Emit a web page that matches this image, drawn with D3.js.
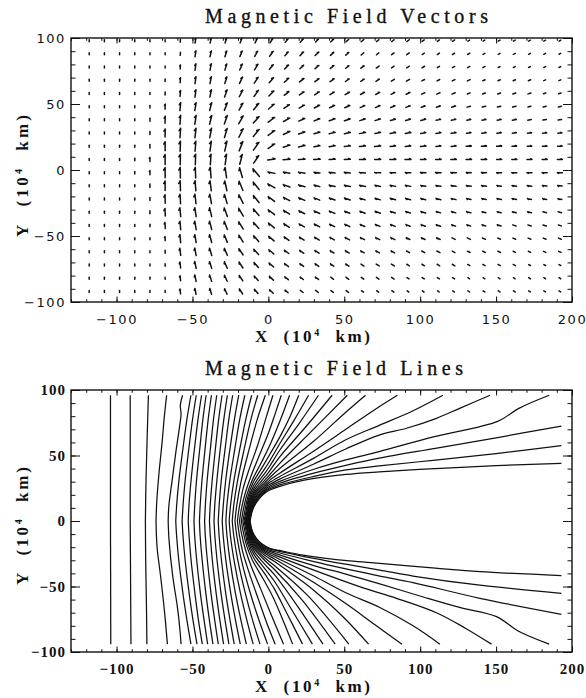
<!DOCTYPE html>
<html><head><meta charset="utf-8">
<script src="https://cdn.jsdelivr.net/npm/d3@7"></script>
<style>body{margin:0;background:#fff}text{white-space:pre}</style>
</head><body>
<svg id="c" width="586" height="698"></svg>
<script>
// ---------------- DATA ----------------
const xTicks = [-100, -50, 0, 50, 100, 150, 200];
const yTicks = [-100, -50, 0, 50, 100];
const title1 = "Magnetic Field Vectors";
const title2 = "Magnetic Field Lines";

// vector grid (10^4 km)
const gridX = [-118,-108,-98,-88,-78,-68,-58,-48,-38,-28,-18,-8,2,12,22,32,42,52,62,72,82,92,102,112,122,132,142,152,162,172,182,192];
const gridY = [98,88,78,68,58,48,38,28,18,8,-2,-12,-22,-32,-42,-52,-62,-72,-82,-92];

// vector direction (degrees, counter-clockwise from +X), one row per gridY
const vecAngle = [
[90,90,90,90,90,90,85,80,76,72,68,62,56,50,46,44,42,40,40,38,36,36,35,34,33,32,32,30,30,28,28,26],
[90,90,90,90,90,90,85,80,76,72,66,60,54,48,45,43,42,41,40,38,36,35,34,33,32,31,30,29,28,28,27,26],
[90,90,90,90,90,90,86,82,78,72,66,58,50,45,42,40,38,37,36,35,34,33,32,31,30,29,28,27,26,26,25,25],
[90,90,90,90,90,88,86,82,78,72,64,56,48,42,38,36,35,34,33,32,31,30,29,28,27,26,25,24,24,23,22,22],
[90,90,90,90,90,88,85,82,77,70,62,54,45,38,34,32,30,29,28,27,26,25,24,23,22,21,20,20,19,18,18,17],
[90,90,90,90,90,87,84,80,75,68,60,50,40,33,29,27,25,24,23,22,21,20,19,18,17,16,15,15,14,14,13,13],
[90,90,90,90,90,88,85,81,76,70,60,48,36,28,24,21,19,18,17,16,15,14,13,12,12,11,11,10,10,10,9,9],
[90,90,90,90,90,89,86,83,79,73,63,50,35,24,18,15,13,12,11,10,9,9,8,8,7,7,6,6,6,5,5,5],
[90,90,90,90,90,90,88,85,82,77,68,55,35,18,12,9,8,7,6,6,5,5,4,4,4,3,3,3,3,2,2,2],
[90,90,90,90,90,90,89,88,86,82,75,55,8,4,3,2,2,2,1,1,1,1,1,0,0,0,0,0,0,0,0,0],
[90,90,90,90,90,90,91,92,94,98,106,130,168,170,171,172,173,174,175,176,177,177,178,178,179,179,179,180,180,180,180,180],
[90,90,90,90,90,90,92,94,97,102,112,128,150,160,163,165,166,167,168,168,169,169,170,170,170,171,171,172,172,172,173,173],
[90,90,90,90,90,91,93,96,100,106,116,128,143,152,156,158,160,161,162,163,164,164,165,165,166,166,167,167,168,168,168,169],
[90,90,90,90,90,92,95,98,103,110,120,130,142,148,152,155,157,158,159,160,161,162,162,163,163,164,164,165,165,166,166,166],
[90,90,90,90,90,92,95,99,104,111,121,131,140,146,150,152,154,155,156,157,158,159,159,160,160,161,161,162,162,162,163,163],
[90,90,90,90,90,92,95,100,105,112,122,131,139,144,147,149,150,151,152,153,154,154,155,155,156,156,157,157,158,158,158,159],
[90,90,90,90,90,92,96,100,106,113,123,132,139,143,145,146,147,148,149,150,150,151,151,152,152,153,153,154,154,154,155,155],
[90,90,90,90,90,92,96,101,107,114,123,132,138,141,143,144,145,146,146,147,147,148,148,149,149,150,150,150,151,151,151,152],
[90,90,90,90,90,92,96,101,107,114,123,131,137,140,142,143,144,144,145,145,146,146,146,147,147,147,148,148,148,149,149,149],
[90,90,90,90,90,92,96,101,107,114,122,130,136,139,141,142,143,143,144,144,145,145,145,146,146,146,147,147,147,148,148,148]
];
// vector magnitude (arbitrary units), one row per gridY
const vecMag = [
[2,2,2,2,2,2,3,5,5,5,5,5,5,4.5,4.5,4,4,3.5,3.5,3,3,3,2.5,2.5,2.5,2,2,2,2,2,2,2],
[2,2,2,2,2,2,3,6,6,6,6,6,6,5,5,5,4.5,4,3.5,3,3,3,2.5,2.5,2.5,2.5,2,2,2,2,2,2],
[2,2,2,2,2,2,4,6.5,6.5,6.5,6.5,6.5,6,5.5,5,5,4.5,4,4,3.5,3,3,3,2.5,2.5,2.5,2.5,2,2,2,2,2],
[2,2,2,2,2,2.5,5,7,7,7,7,7,6.5,6,5.5,5,5,4.5,4,4,3.5,3.5,3,3,3,3,2.5,2.5,2.5,2.5,2,2],
[2,2,2,2,2,3,6,7.5,7.5,7.5,7.5,7.5,7,6,5.5,5.5,5,5,4.5,4.5,4,4,3.5,3.5,3.5,3,3,3,3,3,2.5,2.5],
[2,2,2,2,2.5,5,8,8,8,8,8,8,7.5,6.5,6,6,5.5,5.5,5,5,4.5,4.5,4,4,4,3.5,3.5,3.5,3.5,3,3,3],
[2,2,2,2,3,7,9,9,9,9,9,8.5,8,7,6.5,6,6,6,5.5,5.5,5,5,5,4.5,4.5,4,4,4,4,3.5,3.5,3.5],
[2,2,2,2,3,8,9.5,9.5,9.5,9.5,9.5,9,8,7,6.5,6,6,6,6,5.5,5.5,5.5,5,5,5,4.5,4.5,4.5,4,4,4,4],
[2,2,2,2,3.5,9,10,10,10,10,10,9.5,8,7,6.5,6,6,6,6,6,5.5,5.5,5.5,5,5,5,5,5,4.5,4.5,4.5,4.5],
[2,2,2,2.5,4,10,10.5,10.5,10.5,10.5,10,9,7.5,7,6.5,6.5,6,6,6,6,6,6,5.5,5.5,5.5,5.5,5.5,5,5,5,5,5],
[2,2,2,2.5,4,10,10.5,10.5,10.5,10.5,10,10,7,6.5,6.5,6,6,6,6,6,5.5,5.5,5.5,5.5,5.5,5,5,5,5,5,5,5],
[2,2,2,2,3.5,9.5,10,10,10,10,10,9.5,8,7,6.5,6,6,6,6,5.5,5.5,5.5,5,5,5,5,5,4.5,4.5,4.5,4.5,4.5],
[2,2,2,2,3,8.5,9.5,9.5,9.5,9.5,9.5,9,8,7,6.5,6,6,6,5.5,5.5,5.5,5,5,5,5,4.5,4.5,4.5,4.5,4,4,4],
[2,2,2,2,3,7.5,9,9,9,9,9,8.5,8,7,6.5,6,6,5.5,5.5,5.5,5,5,5,4.5,4.5,4.5,4,4,4,4,3.5,3.5],
[2,2,2,2,2.5,6,8.5,8.5,8.5,8.5,8.5,8,7.5,6.5,6,6,5.5,5.5,5,5,5,4.5,4.5,4.5,4,4,4,4,3.5,3.5,3.5,3],
[2,2,2,2,2,4,8,8,8,8,8,7.5,7,6,5.5,5.5,5,5,4.5,4.5,4.5,4,4,4,3.5,3.5,3.5,3,3,3,3,3],
[2,2,2,2,2,3,7,7.5,7.5,7.5,7.5,7,6.5,5.5,5,5,4.5,4.5,4,4,4,3.5,3.5,3.5,3,3,3,3,2.5,2.5,2.5,2.5],
[2,2,2,2,2,2.5,6,7,7,7,7,6.5,6,5,4.5,4.5,4,4,3.5,3.5,3.5,3,3,3,3,2.5,2.5,2.5,2.5,2,2,2],
[2,2,2,2,2,2,5,6.5,6.5,6.5,6.5,6,5.5,4.5,4,4,3.5,3.5,3,3,3,2.5,2.5,2.5,2.5,2,2,2,2,2,2,2],
[2,2,2,2,2,2,5,6,6,6,6,5.5,5,4,3.5,3.5,3,3,2.5,2.5,2.5,2,2,2,2,2,2,2,2,2,2,2]
];

// field lines, northern branches (from y=0 outward), [x, y] in 10^4 km
const linesNorth = [
[[-104,0],[-104,96]],
[[-91,0],[-91,96]],
[[-81,0],[-80.6,30],[-79.8,65],[-79,96]],
[[-74,0],[-73.5,15],[-72,37],[-70,60],[-68.5,80],[-67,96]],
[[-66,0],[-65.5,12],[-63.5,30],[-61,52],[-58.5,72],[-57.5,82],[-58,88],[-56.5,96]],
[[-61,0],[-60.4,12],[-59,30],[-56.3,55],[-53.6,78],[-51,96]],
[[-56.8,0],[-56.2,12],[-54.9,30],[-52.4,55],[-49.9,78],[-47.5,96]],
[[-52.8,0],[-52.3,12],[-51,30],[-48.7,55],[-46.3,78],[-44,96]],
[[-49,0],[-48.5,12],[-47.4,30],[-45.2,55],[-43.1,78],[-41,96]],
[[-45.4,0],[-44.9,12],[-43.8,30],[-41.7,55],[-39.6,78],[-37.5,96]],
[[-42,0],[-41.5,12],[-40.4,30],[-38.2,55],[-36.1,78],[-34,96]],
[[-38.8,0],[-38.3,12],[-37.1,30],[-34.9,55],[-32.7,78],[-30.5,96]],
[[-35.8,0],[-35.3,12],[-34,30],[-31.7,55],[-29.3,78],[-27,96]],
[[-33,0],[-32.4,12],[-31.1,30],[-28.5,55],[-26,78],[-23.5,96]],
[[-30.4,0],[-29.7,12],[-28.2,30],[-25.3,55],[-22.3,78],[-19.5,96]],
[[-28,0],[-27.3,12],[-25.5,30],[-22.1,55],[-18.8,78],[-15.5,96]],
[[-25.8,0],[-24.9,12],[-22.8,30],[-18.8,55],[-14.8,78],[-11,96]],
[[-23.8,0],[-22.8,12],[-20.4,30],[-15.9,55],[-11.4,78],[-7,96]],
[[-22,0],[-20.8,12],[-18,30],[-12.6,55],[-7.2,78],[-2,96]],
[[-20.4,0],[-19.2,10],[-16.8,24],[-12.5,40],[-7,58],[-2,77],[3,96]],
[[-19,0],[-17.8,9],[-15.3,21],[-11.5,34],[-6,50],[0,67],[4.5,82],[8.5,96]],
[[-17.8,0],[-16.6,8],[-14.3,19.5],[-10.7,31],[-4,46],[1,58],[7.5,76],[14,96]],
[[-16.8,0],[-15.6,7],[-13.6,18],[-10.2,29],[-3,43],[1,51],[7.5,64],[14,79],[20,96]],
[[-16,0],[-14.9,6],[-13.1,17],[-9.7,27],[-2,40.5],[1,46],[7.5,59],[17,77],[26.5,96]],
[[-15.4,0],[-14.3,6],[-12.7,16.2],[-9.2,25.5],[-2,37],[1,42],[7.5,54],[20,74],[33,96]],
[[-14.9,0],[-13.8,6],[-12.3,15.5],[-8.8,24.2],[-2,34],[1,38.5],[7.5,49],[24,71],[42,96]],
[[-14.5,0],[-13.4,6],[-11.9,15],[-8.5,23],[-2,31.6],[1,35.5],[7.5,44],[28,68],[52,96]],
[[-14.1,0],[-13,6],[-11.5,14.5],[-8.2,22],[-2,29.7],[1,33.2],[7.5,40],[30,61],[51,83],[64,96]],
[[-13.8,0],[-12.7,6],[-11.2,14],[-7.9,21],[-2,28],[1,31.2],[7.5,36.5],[30,53.5],[51,70],[70,85],[85,96]],
[[-13.5,0],[-12.4,6],[-10.9,13.5],[-7.6,20.2],[-2,26.6],[1,29.5],[7.5,34],[30,48],[51,62],[73,73],[95,84],[115,96]],
[[-13.2,0],[-12.1,6],[-10.6,13],[-7.3,19.5],[-2,25.4],[1,28],[7.5,32],[30,43.5],[51,55],[73,65.6],[91,70.8],[110.7,78.4],[126,86],[146,96]],
[[-12.9,0],[-11.8,6],[-10.3,12.5],[-7,18.8],[-2,24.3],[1,26.7],[7.5,30.2],[30,39.5],[51,46.6],[73,53],[108,64],[151,76],[165,86],[185,96]],
[[-12.6,0],[-11.6,6],[-10,12],[-6.7,18.2],[-2,23.3],[1,25.6],[7.5,28.8],[30,36.5],[51,42.5],[73,48],[110,55.5],[150,63.5],[193,72.5]],
[[-12.3,0],[-11.3,6],[-9.7,11.5],[-6.4,17.6],[-2,22.4],[1,24.6],[7.5,27.6],[30,34],[51,39],[73,42],[110,46.5],[150,51.5],[193,57.5]],
[[-12,0],[-11,6],[-9.4,11],[-6.1,17],[-2,21.5],[1,23.7],[7.5,26.5],[22.8,31],[51,35.5],[73,37.5],[110,40],[150,42.3],[193,44]]
];

// field lines, southern branches (from y=0 outward)
const linesSouth = [
[[-104,0],[-103.8,-94]],
[[-91,0],[-90.5,-94]],
[[-81,0],[-80.8,-30],[-80.3,-65],[-80,-94]],
[[-74,0],[-73.3,-20],[-71,-42],[-68.5,-68],[-66.5,-94]],
[[-66,0],[-65.4,-15],[-63,-42],[-60,-65],[-58.5,-80],[-57.5,-94]],
[[-61,0],[-60.4,-12],[-59,-30],[-56.3,-55],[-53.6,-76],[-51,-94]],
[[-56.8,0],[-56.2,-12],[-54.8,-30],[-52.2,-55],[-49.6,-76],[-47,-94]],
[[-52.8,0],[-52.2,-12],[-50.9,-30],[-48.4,-55],[-46,-76],[-43.5,-94]],
[[-49,0],[-48.5,-12],[-47.2,-30],[-44.8,-55],[-42.3,-76],[-40,-94]],
[[-45.4,0],[-44.9,-12],[-43.6,-30],[-41.2,-55],[-38.8,-76],[-36.5,-94]],
[[-42,0],[-41.5,-12],[-40.2,-30],[-37.8,-55],[-35.3,-76],[-33,-94]],
[[-38.8,0],[-38.2,-12],[-36.9,-30],[-34.4,-55],[-31.9,-76],[-29.5,-94]],
[[-35.8,0],[-35.2,-12],[-33.8,-30],[-31.2,-55],[-28.5,-76],[-26,-94]],
[[-33,0],[-32.4,-12],[-30.9,-30],[-28.1,-55],[-25.2,-76],[-22.5,-94]],
[[-30.4,0],[-29.7,-12],[-28,-30],[-24.8,-55],[-21.6,-76],[-18.5,-94]],
[[-28,0],[-27.2,-12],[-25.3,-30],[-21.7,-55],[-18,-76],[-14.5,-94]],
[[-25.8,0],[-24.9,-12],[-22.6,-30],[-18.4,-55],[-14.1,-76],[-10,-94]],
[[-23.8,0],[-22.7,-12],[-20.1,-30],[-15.2,-55],[-10.3,-76],[-5.5,-94]],
[[-22,0],[-20.7,-12],[-17.7,-30],[-11.9,-55],[-6.1,-76],[-0.5,-94]],
[[-20.4,0],[-19.2,-10],[-16.8,-24],[-12.5,-40],[-6.5,-60],[-1,-78],[4.5,-94]],
[[-19,0],[-17.8,-9],[-15.3,-21],[-11.5,-34],[-5,-52],[2,-72],[10,-94]],
[[-17.8,0],[-16.6,-8],[-14.3,-19],[-10.5,-30],[-3,-45],[3,-58],[9,-74],[16,-94]],
[[-16.8,0],[-15.6,-7],[-13.6,-17.5],[-10,-27.5],[-2,-41],[4,-52],[12,-70],[22.5,-94]],
[[-16,0],[-14.9,-6],[-13.1,-16.5],[-9.5,-25.5],[-2,-37],[4,-46],[15,-67],[29,-94]],
[[-15.4,0],[-14.3,-6],[-12.7,-15.5],[-9,-24],[-2,-33.5],[4,-41],[18,-63],[36,-94]],
[[-14.9,0],[-13.8,-6],[-12.3,-15],[-8.6,-22.5],[-2,-30.5],[4,-37],[22,-60],[44,-94]],
[[-14.5,0],[-13.4,-6],[-11.9,-14.5],[-8.3,-21.5],[-2,-28.5],[4,-34],[26,-57],[53,-94]],
[[-14.1,0],[-13,-6],[-11.5,-14],[-8,-20.5],[-2,-26.5],[4,-31],[30,-53],[50,-74],[66,-94]],
[[-13.8,0],[-12.7,-6],[-11.2,-13.5],[-7.7,-19.8],[-2,-25],[4,-29],[30,-47],[51,-63],[70,-79],[88,-94]],
[[-13.5,0],[-12.4,-6],[-10.9,-13],[-7.4,-19],[-2,-23.8],[4,-27.3],[30,-42],[51.4,-55],[73.4,-66],[95.3,-80],[113,-94]],
[[-13.2,0],[-12.1,-6],[-10.6,-12.5],[-7.1,-18.3],[-2,-22.8],[4,-25.8],[30,-37.5],[62.4,-51],[84.4,-59],[110.7,-70],[130,-82],[147,-94]],
[[-12.9,0],[-11.8,-6],[-10.3,-12],[-6.8,-17.6],[-2,-21.8],[4,-24.5],[30,-34],[51,-40.5],[73.4,-48],[102,-58],[126,-66],[150.3,-73],[164.5,-84],[185,-94]],
[[-12.6,0],[-11.6,-6],[-10,-11.5],[-6.5,-17],[-2,-20.9],[4,-23.3],[30,-31],[51,-36.5],[73.4,-42],[95.3,-47],[139.3,-59],[193,-71.2]],
[[-12.3,0],[-11.3,-6],[-9.7,-11],[-6.2,-16.4],[-2,-20],[4,-22.2],[30,-28.5],[51,-33],[73.4,-37.5],[95.3,-42],[139.3,-49],[193,-55.2]],
[[-12,0],[-11,-6],[-9.4,-10.5],[-5.9,-15.8],[-2,-19.2],[1,-20.9],[7.5,-22.5],[22.8,-26],[53.6,-30.5],[73.3,-32.3],[110,-36],[139.3,-38.7],[193,-41.7]]
];

// ---------------- DRAWING ----------------
const svg = d3.select("#c");
const ink = "#111";
const x = d3.scaleLinear().domain([-130, 200]).range([71, 572]);
const yTop = d3.scaleLinear().domain([-100, 100]).range([302, 38]);
const yBot = d3.scaleLinear().domain([-100, 100]).range([652, 390]);
const magScale = d3.scaleLinear().domain([0, 10]).range([0, 10]);

function drawFrame(y, labelFont, labelSize, labelWeight, xPad, spacing) {
  const g = svg.append("g");
  const [y0, y1] = y.range();
  const xl = x.range()[0], xr = x.range()[1];
  const xMinor = x.ticks(33), yMinor = y.ticks(20);
  const styleAxis = sel => {
    sel.select(".domain").remove();
    sel.selectAll("line").attr("stroke", ink).attr("stroke-width", 1);
  };
  // minor ticks
  g.append("g").attr("transform", `translate(0,${y0})`).call(d3.axisBottom(x).tickValues(xMinor).tickSize(-2.8).tickFormat("")).call(styleAxis);
  g.append("g").attr("transform", `translate(0,${y1})`).call(d3.axisTop(x).tickValues(xMinor).tickSize(-2.8).tickFormat("")).call(styleAxis);
  g.append("g").attr("transform", `translate(${xl},0)`).call(d3.axisLeft(y).tickValues(yMinor).tickSize(-4.5).tickFormat("")).call(styleAxis);
  g.append("g").attr("transform", `translate(${xr},0)`).call(d3.axisRight(y).tickValues(yMinor).tickSize(-4.5).tickFormat("")).call(styleAxis);
  // major ticks + labels
  const fmt = d3.format("d");
  const bx = g.append("g").attr("transform", `translate(0,${y0})`).call(d3.axisBottom(x).tickValues(xTicks).tickSize(-5.5).tickPadding(xPad).tickFormat(fmt)).call(styleAxis);
  g.append("g").attr("transform", `translate(0,${y1})`).call(d3.axisTop(x).tickValues(xTicks).tickSize(-5.5).tickFormat("")).call(styleAxis);
  const ly = g.append("g").attr("transform", `translate(${xl},0)`).call(d3.axisLeft(y).tickValues(yTicks).tickSize(-9).tickPadding(5).tickFormat(fmt)).call(styleAxis);
  g.append("g").attr("transform", `translate(${xr},0)`).call(d3.axisRight(y).tickValues(yTicks).tickSize(-9).tickFormat("")).call(styleAxis);
  [bx, ly].forEach(a => a.selectAll("text")
      .attr("font-family", labelFont).attr("font-size", labelSize).attr("font-weight", labelWeight)
      .attr("fill", ink).style("letter-spacing", spacing + "px"));
  // frame
  g.append("rect").attr("x", xl).attr("y", y1).attr("width", xr - xl).attr("height", y0 - y1)
    .attr("fill", "none").attr("stroke", ink).attr("stroke-width", 1.4);
}

function title(txt, xs, base, len) {
  svg.append("text").attr("x", xs).attr("y", base).attr("font-family", "Liberation Serif")
    .attr("font-size", 20).attr("fill", ink).attr("stroke", ink).attr("stroke-width", 0.35)
    .attr("textLength", len).attr("lengthAdjust", "spacing").text(txt);
}

function xTitle(base) {
  const t = svg.append("text").attr("x", 255).attr("y", base).attr("font-family", "Liberation Serif")
    .attr("font-weight", "bold").attr("font-size", 17).attr("fill", ink)
    .attr("textLength", 115).attr("lengthAdjust", "spacing");
  t.append("tspan").text("X\u00a0\u00a0(10");
  t.append("tspan").attr("dy", -6).attr("font-size", 10).text("4");
  t.append("tspan").attr("dy", 6).text("\u00a0\u00a0km)");
}

function yTitle(cy, len) {
  const t = svg.append("text").attr("transform", `translate(28,${cy}) rotate(-90)`).attr("text-anchor", "middle")
    .attr("font-family", "Liberation Serif").attr("font-weight", "bold").attr("font-size", 17).attr("fill", ink)
    .attr("textLength", len).attr("lengthAdjust", "spacing");
  t.append("tspan").text("Y\u00a0\u00a0(10");
  t.append("tspan").attr("dy", -6).attr("font-size", 10).text("4");
  t.append("tspan").attr("dy", 6).text("\u00a0\u00a0km)");
}

// ---- top panel: vectors ----
drawFrame(yTop, "DejaVu Sans", 13, "normal", 13, 1.6);
const vg = svg.append("g").attr("stroke", ink).attr("stroke-width", 1.5).attr("stroke-linecap", "round").attr("fill", "none");
gridY.forEach((gy, i) => {
  gridX.forEach((gx, j) => {
    const a = vecAngle[i][j] * Math.PI / 180;
    const m = magScale(vecMag[i][j]);
    const cx = x(gx), cy = yTop(gy);
    const dx = Math.cos(a) * m / 2, dy = -Math.sin(a) * m / 2;
    let d = `M${cx - dx},${cy - dy}L${cx + dx},${cy + dy}`;
    if (m >= 4) {
      const h = Math.min(3, 0.3 * m), b = a + 150 * Math.PI / 180;
      d += `M${cx + dx},${cy + dy}l${Math.cos(b) * h},${-Math.sin(b) * h}`;
    }
    vg.append("path").attr("d", d);
  });
});
title(title1, 205, 22.5, 283);
xTitle(342);
yTitle(176, 122);

// ---- bottom panel: field lines ----
drawFrame(yBot, "Liberation Serif", 15, "bold", 11, 1);
const line = d3.line().x(d => x(d[0])).y(d => yBot(d[1])).curve(d3.curveCatmullRom.alpha(0.5));
const lg = svg.append("g").attr("fill", "none").attr("stroke", ink).attr("stroke-width", 1.25);
linesNorth.forEach(l => lg.append("path").attr("d", line(l)));
linesSouth.forEach(l => lg.append("path").attr("d", line(l)));
title(title2, 205, 375, 258);
xTitle(692);
yTitle(526, 118);
</script>
</body></html>
